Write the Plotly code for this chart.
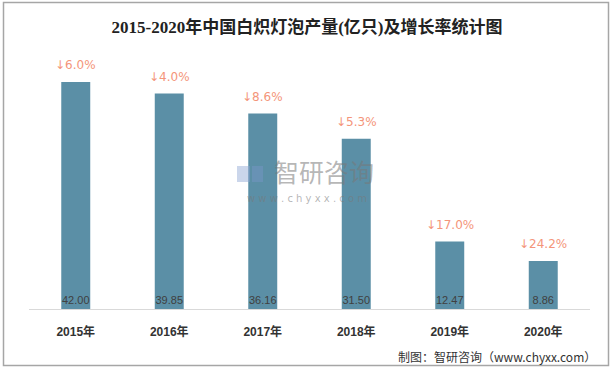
import plotly.graph_objects as go

years = ["2015年", "2016年", "2017年", "2018年", "2019年", "2020年"]
output = [42.00, 39.85, 36.16, 31.50, 12.47, 8.86]
growth = ["↓6.0%", "↓4.0%", "↓8.6%", "↓5.3%", "↓17.0%", "↓24.2%"]

W, H = 614, 369
L, R, T, B = 29, 24, 50, 60
pw, ph = W - L - R, H - T - B

def px_x(x):
    return (x - L) / pw

def px_y(y):
    return (H - B - y) / ph

fig = go.Figure()
fig.add_trace(go.Bar(
    x=years, y=output,
    marker=dict(color="#5B8FA6", line=dict(width=0)),
    width=0.31,
    text=[f"{v:.2f}" for v in output],
    textposition="inside",
    insidetextanchor="start",
    textangle=0,
    constraintext="none",
    textfont=dict(size=11, color="#404040", family="Liberation Sans, Arial, sans-serif"),
    cliponaxis=False,
    hoverinfo="skip",
))

for x, v, g in zip(years, output, growth):
    fig.add_annotation(x=x, y=v, text=g, showarrow=False, yshift=17,
                       font=dict(size=12, color="#F4957A", family="DejaVu Sans, sans-serif"))

# watermark
fig.add_annotation(xref="paper", yref="paper", x=px_x(324), y=px_y(171), yanchor="middle", text="智研咨询",
                   showarrow=False, font=dict(size=25, color="rgba(120,120,120,0.55)",
                                               family="Noto Sans CJK SC"))
fig.add_annotation(xref="paper", yref="paper", x=px_x(307), y=px_y(198), yanchor="middle",
                   text="w w w . c h y x x . c o m",
                   showarrow=False, font=dict(size=10, color="rgba(120,120,120,0.55)",
                                               family="DejaVu Sans"))
fig.add_shape(type="rect", xref="paper", yref="paper", x0=px_x(237), x1=px_x(250), y0=px_y(182), y1=px_y(166),
              fillcolor="rgba(140,165,210,0.45)", line=dict(width=0), layer="above")
fig.add_shape(type="rect", xref="paper", yref="paper", x0=px_x(252), x1=px_x(263), y0=px_y(182), y1=px_y(166),
              fillcolor="rgba(120,150,200,0.45)", line=dict(width=0), layer="above")

# source
fig.add_annotation(xref="paper", yref="paper", x=px_x(598), y=px_y(356), xanchor="right", yanchor="middle",
                   text="制图：智研咨询（www.chyxx.com）", showarrow=False,
                   font=dict(size=12, color="#333333", family="Noto Sans CJK SC"))

# border
fig.add_shape(type="rect", xref="paper", yref="paper",
              x0=px_x(3.5), x1=px_x(608.5), y0=px_y(365.5), y1=px_y(2.5),
              line=dict(color="#A6A6A6", width=1.5), fillcolor="rgba(0,0,0,0)")

fig.update_layout(
    width=W, height=H,
    margin=dict(l=L, r=R, t=T, b=B, autoexpand=False),
    paper_bgcolor="white", plot_bgcolor="white",
    showlegend=False,
    title=dict(text="<b>2015-2020年中国白炽灯泡产量(亿只)及增长率统计图</b>",
               x=0.5, xref="container", y=1 - 27 / H, yanchor="middle",
               font=dict(size=17, color="#222222", family="Liberation Serif, Noto Sans CJK SC, serif")),
    xaxis=dict(showline=True, linecolor="#D9D9D9", linewidth=1, ticks="", automargin=False,
               tickfont=dict(size=12, color="#333333", family="Liberation Sans, Noto Sans CJK SC", weight="bold"),
               ticklabelstandoff=12, showgrid=False, fixedrange=True),
    yaxis=dict(range=[0, ph / (227 / 42.0)], visible=False, showgrid=False, fixedrange=True, automargin=False),
)

fig.write_html("out.html", config={"displayModeBar": False},
               post_script="document.body.style.margin='0';document.body.style.padding='0';")
